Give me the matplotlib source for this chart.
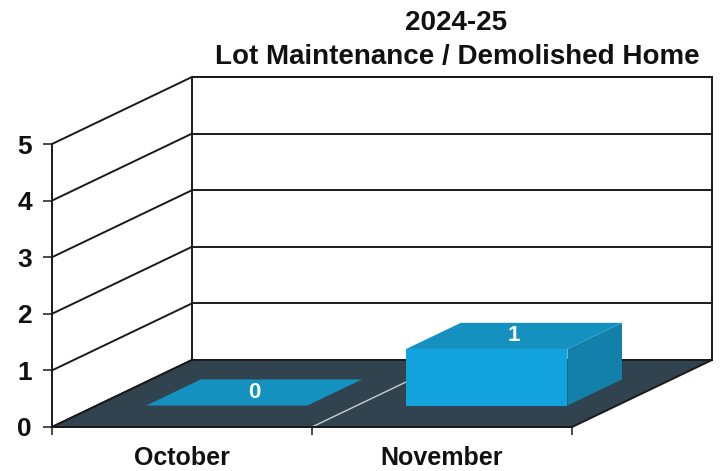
import matplotlib
matplotlib.use("Agg")
import matplotlib.pyplot as plt
from matplotlib.patches import Polygon

# ---- data ----
categories = ["October", "November"]
values = [0, 1]
y_ticks = [0, 1, 2, 3, 4, 5]
title_lines = ["2024-25", "Lot Maintenance / Demolished Home"]

# ---- style ----
FONT = "Liberation Sans"
EDGE = "#1a1a1a"
FLOOR = "#30434f"
FLOOR_GRID = "#c9cfd3"
BAR_FRONT = "#12a2dd"
BAR_TOP = "#1591c0"
BAR_SIDE = "#1380ab"

W, H = 723, 471
fig = plt.figure(figsize=(W / 100, H / 100), dpi=100)
fig.patch.set_facecolor("white")

# front plane of the chart box
ax = fig.add_axes([52 / W, (H - 427) / H, 520 / W, 283 / H])
ax.set_xlim(-0.5, len(categories) - 0.5)
ax.set_ylim(0, max(y_ticks))
ax.patch.set_visible(False)

# oblique depth offset (in data units) from the front plane to the back wall
DX, DY = 0.5385, 1.184


def proj(x, y, d):
    return (x + d * DX, y + d * DY)


def face(pts, color, z, edge="none", lw=0.0):
    poly = Polygon([proj(*p) for p in pts], closed=True, facecolor=color,
                   edgecolor=edge, linewidth=lw, clip_on=False, zorder=z)
    ax.add_patch(poly)


x_lo, x_hi = -0.5, len(categories) - 0.5
y_top = max(y_ticks)
LW = 1.4

# back wall and left wall
face([(x_lo, 0, 1), (x_hi, 0, 1), (x_hi, y_top, 1), (x_lo, y_top, 1)],
     "white", 1, EDGE, LW)
for v in y_ticks:
    bx, by = proj(x_lo, v, 1)
    ex, ey = proj(x_hi, v, 1)
    ax.plot([bx, ex], [by, ey], color=EDGE, lw=LW, clip_on=False, zorder=1.5)
    ax.plot([x_lo, bx], [v, by], color=EDGE, lw=LW, clip_on=False, zorder=1.5)

# floor
face([(x_lo, 0, 0), (x_hi, 0, 0), (x_hi, 0, 1), (x_lo, 0, 1)],
     FLOOR, 2, EDGE, LW)
for b in range(1, len(categories)):
    sx, sy = proj(b - 0.5, 0, 0)
    ex, ey = proj(b - 0.5, 0, 1)
    ax.plot([sx, ex], [sy, ey], color=FLOOR_GRID, lw=1.0, clip_on=False, zorder=2.2)

# bars
BAR_W = 0.62
D0, D1 = 0.32, 0.71
for i, v in enumerate(values):
    x0, x1 = i - BAR_W / 2, i + BAR_W / 2
    if v > 0:
        face([(x0, 0, D0), (x1, 0, D0), (x1, v, D0), (x0, v, D0)], BAR_FRONT, 3)
        face([(x1, 0, D0), (x1, 0, D1), (x1, v, D1), (x1, v, D0)], BAR_SIDE, 3)
    face([(x0, v, D0), (x1, v, D0), (x1, v, D1), (x0, v, D1)], BAR_TOP, 3)
    cx, cy = proj(i, v, (D0 + D1) / 2)
    ax.text(cx, cy, str(v), color="white", fontsize=16, fontweight="bold",
            family=FONT, ha="center", va="center", zorder=4)

# axes: front vertical axis and category axis
for s in ("top", "right"):
    ax.spines[s].set_visible(False)
for s in ("left", "bottom"):
    ax.spines[s].set_color(EDGE)
    ax.spines[s].set_linewidth(LW)
    ax.spines[s].set_zorder(5)

ax.set_yticks(y_ticks)
ax.set_yticklabels([str(t) for t in y_ticks])
ax.tick_params(axis="y", direction="out", length=6.5, width=1.1, color=EDGE,
               pad=8, labelsize=19)
ax.set_xticks([b - 0.5 for b in range(len(categories) + 1)])
ax.set_xticklabels([])
ax.set_xticks(range(len(categories)), minor=True)
ax.set_xticklabels(categories, minor=True)
ax.tick_params(axis="x", which="major", direction="out", length=6, width=1.1, color=EDGE)
ax.tick_params(axis="x", which="minor", length=0, pad=14, labelsize=18)
for lab in ax.get_yticklabels() + ax.get_xticklabels(minor=True):
    lab.set_fontweight("bold")
    lab.set_family(FONT)
    lab.set_color("#111111")

# title
fig.text(456 / W, 1 - 30 / H, title_lines[0], ha="center", va="baseline",
         fontsize=20, fontweight="bold", family=FONT, color="#111111")
fig.text(457 / W, 1 - 64 / H, title_lines[1], ha="center", va="baseline",
         fontsize=20, fontweight="bold", family=FONT, color="#111111")

fig.savefig("out.png", dpi=100, facecolor="white")
